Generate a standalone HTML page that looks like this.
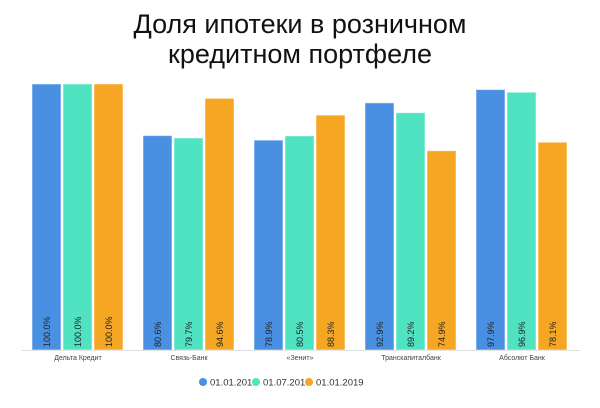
<!DOCTYPE html>
<html><head><meta charset="utf-8"><style>
body{margin:0;background:#fff;width:600px;height:403px;overflow:hidden;font-family:"Liberation Sans",sans-serif}
</style></head><body>
<svg width="600" height="403">
<text x="300" y="33" text-anchor="middle" font-size="27" fill="#111">Доля ипотеки в розничном</text>
<text x="300" y="63" text-anchor="middle" font-size="27" fill="#111">кредитном портфеле</text>
<line x1="22" y1="350.5" x2="580" y2="350.5" stroke="#ddd"/>
<g id="bars"></g>
<g id="legend"></g>
</svg>
<script>
const categories=["Дельта Кредит","Связь-Банк","«Зенит»","Транскапиталбанк","Абсолют Банк"];
const series=["01.01.2018","01.07.2018","01.01.2019"];
const s2018a=[100.0,80.6,78.9,92.9,97.9];
const s2018b=[100.0,79.7,80.5,89.2,96.9];
const s2019=[100.0,94.6,88.3,74.9,78.1];
const colors=["#4a90e2","#50e3c2","#f5a623"];
const vals=[s2018a,s2018b,s2019];
const ns="http://www.w3.org/2000/svg";
const base=350,top100=84;
const y=v=>base-(v/100)*(base-top100);
const gx=i=>32+i*111;
const g=document.getElementById('bars');
function mk(t,a){const e=document.createElementNS(ns,t);for(const k in a)e.setAttribute(k,a[k]);return e;}
categories.forEach((c,i)=>{
  vals.forEach((arr,s)=>{
    const x=gx(i)+s*31,v=arr[i];
    const r=mk('rect',{x:x,y:y(v),width:29,height:base-y(v),fill:colors[s],stroke:'rgba(255,255,255,0.5)'});
    
    
    g.appendChild(r);
    const t=mk('text',{x:0,y:0,'font-size':9,fill:'#222',transform:`translate(${x+18},${base-3}) rotate(-90)`});
    t.textContent=v.toFixed(1)+'%';
    
    
    g.appendChild(t);
  });
  const l=mk('text',{x:gx(i)+46,y:360,'font-size':7,fill:'#444','text-anchor':'middle'});
  l.textContent=c;
  
  
  g.appendChild(l);
});
const lg=document.getElementById('legend');
const lx=[203,256,309];
series.forEach((s,i)=>{
  const c=mk('circle',{cx:lx[i],cy:382,r:4,fill:colors[i]});
  
  
  lg.appendChild(c);
  const t=mk('text',{x:lx[i]+7,y:385.5,'font-size':9.5,fill:'#333'});
  t.textContent=s;
  
  
  lg.appendChild(t);
});
</script>
</body></html>
